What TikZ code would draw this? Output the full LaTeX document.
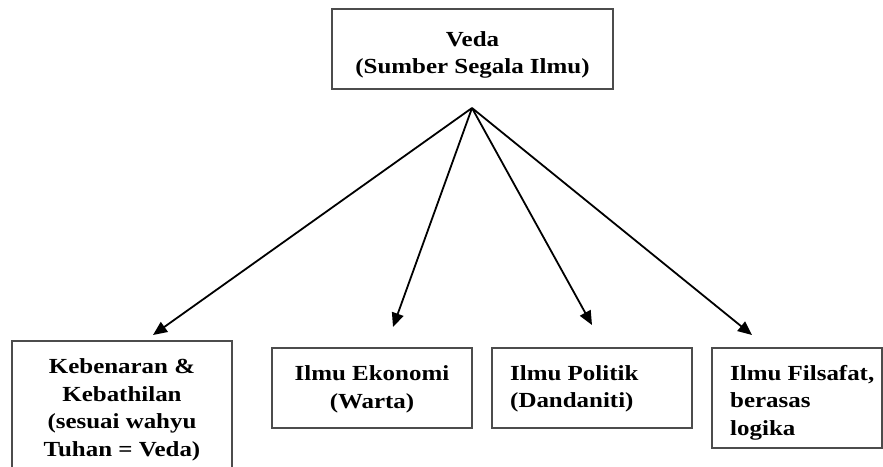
\documentclass[tikz,border=0pt]{standalone}
\usepackage{fontspec}
\setmainfont[FakeStretch=1.16]{Liberation Serif}
\usetikzlibrary{arrows.meta}
\begin{document}
\begin{tikzpicture}[x=1pt,y=-1pt,
  box/.style={draw=black!70,line width=1.4pt,rectangle,inner sep=0pt},
  lbl/.style={font=\bfseries\fontsize{21.5}{27.5}\selectfont,align=center,inner sep=0pt},
  lbll/.style={lbl,align=left,anchor=west},
  arr/.style={line width=1.8pt,-{Triangle[length=14pt,width=12pt]}}]
\useasboundingbox (0,0) rectangle (883,466);
\clip (0,0) rectangle (883,466);
% boxes
\node[box,minimum width=281pt,minimum height=80pt] (veda) at (472.5,49) {};
\node[lbl] (vedat) at (472.5,55) {Veda\\(Sumber Segala Ilmu)};
\node[box,minimum width=220pt,minimum height=160pt] (keb) at (122,421) {};
\node[lbl] (kebt) at (122,410) {Kebenaran \&\\Kebathilan\\(sesuai wahyu\\Tuhan = Veda)};
\node[box,minimum width=200pt,minimum height=80pt] (eko) at (372,388) {};
\node[lbl] (ekot) at (372,389.5) {Ilmu Ekonomi\\(Warta)};
\node[box,minimum width=200pt,minimum height=80pt] (pol) at (592,388) {};
\node[lbll] (polt) at (510,389) {Ilmu Politik\\(Dandaniti)};
\node[box,minimum width=170pt,minimum height=100pt] (fil) at (797,398) {};
\node[lbll] (filt) at (730,402.5) {Ilmu Filsafat,\\berasas\\logika};
% connectors
\coordinate (apex) at (472,108);
\coordinate (t1) at (153,335);
\coordinate (t2) at (393,327);
\coordinate (t3) at (592,325);
\coordinate (t4) at (752,335);
\draw[arr] (apex) -- (t1);
\draw[arr] (apex) -- (t2);
\draw[arr] (apex) -- (t3);
\draw[arr] (apex) -- (t4);
\end{tikzpicture}
\end{document}
